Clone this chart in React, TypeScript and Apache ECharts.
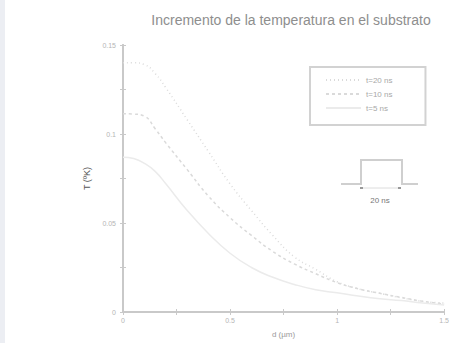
import React, { useEffect, useRef } from "react";
import * as echarts from "echarts";

const titleText = "Incremento de la temperatura en el substrato";
const xName = "d (µm)";
const yName = "T (ºK)";
const dValues = [0, 0.05, 0.1, 0.15, 0.2, 0.3, 0.4, 0.5, 0.6, 0.7, 0.8, 0.9, 1.0, 1.1, 1.2, 1.3, 1.4, 1.5];
const seriesNames = ["t=20 ns", "t=10 ns", "t=5 ns"];
const t20 = [0.14, 0.14, 0.139, 0.134, 0.126, 0.108, 0.09, 0.072, 0.057, 0.043, 0.031, 0.024, 0.017, 0.013, 0.0105, 0.008, 0.006, 0.005];
const t10 = [0.1114, 0.1112, 0.11, 0.103, 0.095, 0.08, 0.065, 0.053, 0.043, 0.034, 0.027, 0.0215, 0.0165, 0.013, 0.0105, 0.0082, 0.006, 0.0045];
const t5 = [0.087, 0.0862, 0.0835, 0.079, 0.072, 0.057, 0.044, 0.033, 0.025, 0.0195, 0.0155, 0.0125, 0.0108, 0.009, 0.0075, 0.0064, 0.005, 0.004];
const xLabels = ["0", "0.5", "1", "1.5"];
const yLabels = ["0", "0.05", "0.1", "0.15"];
const pulseLabel = "20 ns";

const pairs = (ys: number[]) => dValues.map((d, i) => [d, ys[i]]);

export default function App() {
  const ref = useRef<HTMLDivElement>(null);
  useEffect(() => {
    const chart = echarts.init(ref.current!, null, { renderer: "svg" });
    const axisCol = "#c9c9c9";
    const labelCol = "#b5b5b5";
    const xFmt = (v: number) => {
      const r = Math.round(v * 100) / 100;
      const idx = [0, 0.5, 1, 1.5].indexOf(r);
      return idx >= 0 ? xLabels[idx] : "";
    };
    const yFmt = (v: number) => {
      const r = Math.round(v * 1000) / 1000;
      const idx = [0, 0.05, 0.1, 0.15].indexOf(r);
      return idx >= 0 ? yLabels[idx] : "";
    };
    const common = {
      axisLine: { show: true, lineStyle: { color: axisCol, width: 2 } },
      axisTick: { show: true, inside: true, length: 3, lineStyle: { color: axisCol, width: 1 } },
      splitLine: { show: false },
    };
    chart.setOption({
      animation: false,
      backgroundColor: "#ffffff",
      title: {
        text: titleText,
        left: 286,
        top: 8,
        textAlign: "center",
        textStyle: { color: "#8e8e8e", fontSize: 14, fontWeight: "normal", fontFamily: "Liberation Sans" },
      },
      grid: { left: 123, right: 6, top: 45, bottom: 27 },
      xAxis: [
        {
          type: "value", min: 0, max: 1.5, interval: 0.25,
          name: xName, nameLocation: "middle", nameGap: 18,
          nameTextStyle: { color: "#9a9a9a", fontSize: 8, fontFamily: "Liberation Sans" },
          axisLabel: { color: labelCol, fontSize: 7, margin: 5, formatter: xFmt, fontFamily: "Liberation Sans" },
          ...common,
        },
        {
          type: "value", min: 0, max: 1.5, interval: 0.25, position: "top",
          axisLabel: { show: false },
          ...common,
        },
      ],
      yAxis: [
        {
          type: "value", min: 0, max: 0.15, interval: 0.025,
          name: yName, nameLocation: "middle", nameGap: 31,
          nameTextStyle: { color: "#555555", fontSize: 9, fontFamily: "Liberation Sans" },
          axisLabel: { color: labelCol, fontSize: 7, margin: 7, formatter: yFmt, fontFamily: "Liberation Sans" },
          ...common,
        },
        {
          type: "value", min: 0, max: 0.15, interval: 0.025, position: "right",
          axisLabel: { show: false },
          ...common,
        },
      ],
      legend: {
        orient: "vertical",
        left: 310,
        top: 67,
        width: 123,
        itemWidth: 35,
        itemHeight: 10,
        itemGap: 6,
        padding: [9, 33, 13, 15],
        borderColor: "#d2d2d2",
        borderWidth: 2,
        backgroundColor: "#ffffff",
        itemStyle: { opacity: 0 },
        textStyle: { color: "#a8a8a8", fontSize: 8, fontFamily: "Liberation Sans" },
        data: seriesNames,
      },
      series: [
        {
          name: seriesNames[0], type: "line", data: pairs(t20), smooth: 0.5, symbol: "none",
          lineStyle: { color: "#dadada", width: 1.5, type: [1, 3] }, itemStyle: { color: "#dadada" },
        },
        {
          name: seriesNames[1], type: "line", data: pairs(t10), smooth: 0.5, symbol: "none",
          lineStyle: { color: "#dadada", width: 1.5, type: [3, 3] }, itemStyle: { color: "#dadada" },
        },
        {
          name: seriesNames[2], type: "line", data: pairs(t5), smooth: 0.5, symbol: "none",
          lineStyle: { color: "#ebebeb", width: 1.5, type: "solid" }, itemStyle: { color: "#ebebeb" },
        },
      ],
      graphic: [
        { type: "rect", left: 0, top: 0, shape: { x: 0, y: 0, width: 5, height: 343 }, style: { fill: "#eceef3" }, silent: true },
        {
          type: "polyline",
          shape: { points: [[341, 184], [361, 184], [361, 160], [402, 160], [402, 184], [418, 184]] },
          style: { stroke: "#cfcfcf", lineWidth: 2, fill: "none" },
        },
        { type: "line", shape: { x1: 362, y1: 188, x2: 400, y2: 188 }, style: { stroke: "#dcdcdc", lineWidth: 1 } },
        { type: "rect", shape: { x: 360, y: 187, width: 3, height: 2 }, style: { fill: "#999999" } },
        { type: "rect", shape: { x: 398, y: 187, width: 3, height: 2 }, style: { fill: "#999999" } },
        {
          type: "text", x: 380, y: 200,
          style: { text: pulseLabel, fill: "#777777", fontSize: 8, fontFamily: "Liberation Sans", align: "center", verticalAlign: "middle" },
        },
      ],
    });
    return () => chart.dispose();
  }, []);
  return <div ref={ref} style={{ width: 452, height: 343, position: "fixed", left: 0, top: 0 }} />;
}
